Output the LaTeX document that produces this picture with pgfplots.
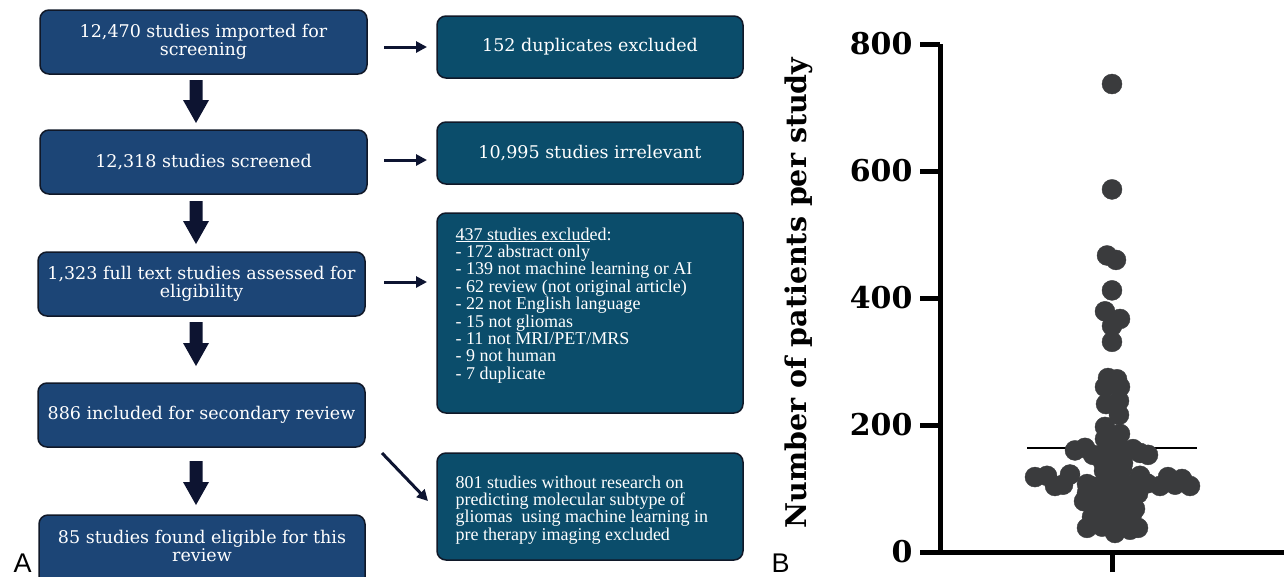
\documentclass[border=0pt]{standalone}
\usepackage{pgfplots}
\pgfplotsset{compat=1.18}
\usepackage{fontspec}
\setmainfont{DejaVu Serif}
\newfontfamily\listfont{Liberation Serif}
\newfontfamily\panelfont{Liberation Sans}
\newfontfamily\plotfont{DejaVu Serif}[BoldFont={DejaVu Serif Bold}]
\usetikzlibrary{arrows.meta}

\definecolor{leftbox}{HTML}{1C4576}
\definecolor{rightbox}{HTML}{0B4D6B}
\definecolor{boxline}{HTML}{101828}
\definecolor{arrowc}{HTML}{0D1431}
\definecolor{dotc}{HTML}{3A3B3D}

% one pixel of the 1284x576 reference = 1pt
\tikzset{
  lbox/.style={draw=boxline, line width=1.5pt, fill=leftbox, rounded corners=9pt},
  rbox/.style={draw=boxline, line width=1.5pt, fill=rightbox, rounded corners=9pt},
  btxt/.style={text=white, align=center, font=\fontsize{17.5}{18}\selectfont},
  ltxt/.style={text=white, align=left, font=\listfont\fontsize{18}{17.4}\selectfont},
  side/.style={draw=arrowc, line width=3pt, -{Triangle[length=11pt,width=11pt]}},
}

\pgfplotstableread{
x y
0 737
0 571
-5 467
4 460
0 412
-7 379
8 367
0 356
0 331
-4 274
5 272
-7 260
8 260
-6 233
7 238
7 216
-7 197
8 186
-7 178
0 170
0 150
-37 160
-27 164
-19 153
-9 153
11 160
21 162
28 156
36 153
-9 142
11 140
-8 128
10 130
0 125
-77 118
-65 120
-42 122
-2 117
28 120
56 118
70 115
-57 104
-49 106
-25 107
-19 103
48 104
63 106
78 104
18 105
35 108
-3 110
8 112
-12 100
12 98
3 100
-25 93
-12 90
5 95
18 90
26 92
0 85
-6 85
-28 80
-19 77
-9 75
5 80
15 78
-15 70
-5 65
11 70
23 68
-4 60
8 62
20 60
-20 55
-9 52
5 56
15 52
0 45
-15 45
12 45
-25 38
-10 40
3 30
18 35
26 38
}\dots

\begin{document}
\begin{tikzpicture}[x=1pt,y=-1pt]
\path[use as bounding box] (0,0) rectangle (1284,576);

% ---------- panel A: left column ----------
\draw[lbox] (40,10) rectangle (367,74);
\node[btxt] at (203.5,42) {12,470 studies imported for\\screening};
\draw[lbox] (40,130) rectangle (367,194);
\node[btxt] at (203.5,162) {12,318 studies screened};
\draw[lbox] (38,252) rectangle (365,316);
\node[btxt] at (201.5,284) {1,323 full text studies assessed for\\eligibility};
\draw[lbox] (38,383) rectangle (365,447);
\node[btxt] at (201.5,415) {886 included for secondary review};
\draw[lbox] (39,515) rectangle (365,590);
\node[btxt] at (202,546) {85 studies found eligible for this\\review};

% thick down arrows
\foreach \t/\b in {80/123, 201/244, 322/366, 461/505}{
  \fill[arrowc] (189.5,\t) -- (202.5,\t) -- (202.5,\b-23) -- (209,\b-23)
    -- (196,\b) -- (183,\b-23) -- (189.5,\b-23) -- cycle;
}

% ---------- panel A: right column ----------
\draw[rbox] (437,16) rectangle (743,78);
\node[btxt] at (590,47) {152 duplicates excluded};
\draw[rbox] (437,122) rectangle (743,184);
\node[btxt] at (590,153) {10,995 studies irrelevant};
\draw[rbox] (437,213) rectangle (743,413);
\node[ltxt, anchor=north west] at (452,224) {\underline{437 studies exclud}ed:\\
- 172 abstract only\\
- 139 not machine learning or AI\\
- 62 review (not original article)\\
- 22 not English language\\
- 15 not gliomas\\
- 11 not MRI/PET/MRS\\
- 9 not human\\
- 7 duplicate};
\draw[rbox] (437,453) rectangle (743,560);
\node[ltxt, anchor=north west] at (452,472) {801 studies without research on\\
predicting molecular subtype of\\
gliomas\ \ using machine learning in\\
pre therapy imaging excluded};

\draw[side] (384,47) -- (427,47);
\draw[side] (384,160) -- (427,160);
\draw[side] (384,282) -- (427,282);
\draw[side] (382,453) -- (428,501);

\node[font=\panelfont\fontsize{27}{27}\selectfont, anchor=base west] at (10,572) {A};
\node[font=\panelfont\fontsize{27}{27}\selectfont, anchor=base west] at (768,572) {B};

% ---------- panel B ----------
\begin{axis}[
  at={(940pt,-552pt)}, anchor=south west,
  scale only axis, width=344pt, height=508pt,
  xmin=-172, xmax=172, ymin=0, ymax=800,
  axis x line*=bottom, axis y line*=left,
  axis line style={line width=5pt, black},
  clip=false,
  xtick={0}, xticklabels={},
  ytick={0,200,400,600,800},
  tick align=outside,
  major tick length=20pt,
  every tick/.style={line width=5pt, black},
  tick label style={font=\plotfont\bfseries\fontsize{30}{30}\selectfont},
  yticklabel style={xshift=-4pt},
  /pgf/number format/assume math mode=true,
  ylabel={Number of patients per study},
  ylabel style={font=\plotfont\bfseries\fontsize{28.5}{29}\selectfont,
    at={(axis description cs:-0.41,0.51)}, anchor=center, rotate=0},
]
\addplot[black, line width=1.5pt] coordinates {(-85,164) (85,164)};
\addplot[only marks, mark=*, mark size=10pt, mark options={fill=dotc, draw=dotc}]
  table[x=x, y=y] {\dots};
\end{axis}
\end{tikzpicture}
\end{document}
